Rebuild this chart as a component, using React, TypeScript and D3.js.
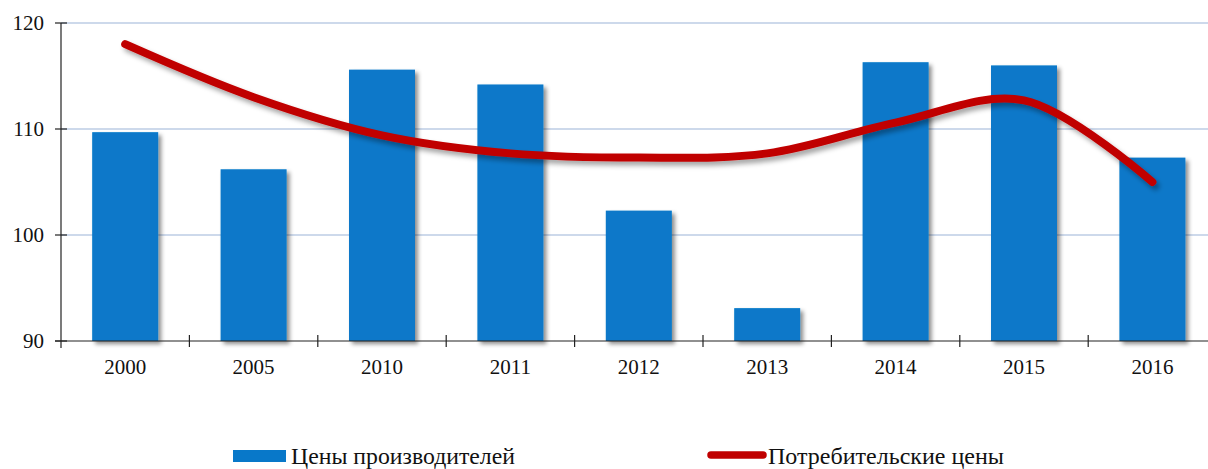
import React from "react";
import * as d3 from "d3";

const categories = ["2000", "2005", "2010", "2011", "2012", "2013", "2014", "2015", "2016"];
const producerPrices = [109.7, 106.2, 115.6, 114.2, 102.3, 93.1, 116.3, 116.0, 107.3];
const consumerPrices = [118.0, 113.0, 109.4, 107.7, 107.3, 107.7, 110.6, 112.7, 105.0];
const yTicks = [90, 100, 110, 120];
const legendLabels = ["Цены производителей", "Потребительские цены"];

const W = 1208;
const H = 469;
const left = 61;
const step = 128.4;
const top = 23;
const bottom = 341;
const font = "'Liberation Serif', 'Times New Roman', serif";

export default function App() {
  const x = d3.scaleBand<string>().domain(categories).range([left, left + step * categories.length]).padding(0);
  const y = d3.scaleLinear().domain([90, 120]).range([bottom, top]);
  const bw = x.bandwidth() * 0.514;
  const cx = (c: string) => (x(c) as number) + x.bandwidth() / 2;

  const line = d3
    .line<number>()
    .x((_, i) => cx(categories[i]))
    .y((d) => y(d))
    .curve(d3.curveCatmullRom.alpha(0.5));

  return (
    <div style={{ position: "absolute", left: 0, top: 0 }}>
      <svg width={W} height={H} style={{ display: "block", background: "#fff" }}>
        <defs>
          <filter id="sh" x="-20%" y="-20%" width="150%" height="150%">
            <feDropShadow dx="3" dy="3" stdDeviation="2" floodColor="#000" floodOpacity="0.45" />
          </filter>
          <filter id="shl" x="-10%" y="-30%" width="120%" height="160%">
            <feDropShadow dx="3" dy="4" stdDeviation="2.5" floodColor="#000" floodOpacity="0.35" />
          </filter>
        </defs>
        {/* gridlines */}
        {yTicks.filter((t) => t !== 90).map((t) => (
          <line key={t} x1={left} x2={W} y1={y(t)} y2={y(t)} stroke="#bccde4" strokeWidth={1.5} />
        ))}
        {/* bars */}
        {categories.map((c, i) => (
          <rect
            key={c}
            x={cx(c) - bw / 2}
            y={y(producerPrices[i])}
            width={bw}
            height={bottom - y(producerPrices[i])}
            fill="#0878c9"
            filter="url(#sh)"
          />
        ))}
        {/* axes */}
        <line x1={left} x2={left} y1={top} y2={bottom + 7} stroke="#222" strokeWidth={1.2} />
        <line x1={left - 6} x2={W} y1={bottom} y2={bottom} stroke="#222" strokeWidth={1.2} />
        {yTicks.map((t) => (
          <g key={t}>
            <line x1={left - 6} x2={left + 6} y1={y(t)} y2={y(t)} stroke="#222" strokeWidth={1.2} />
            <text x={44} y={y(t)} dy="0.35em" textAnchor="end" fontFamily={font} fontSize={21} fill="#111">
              {t}
            </text>
          </g>
        ))}
        {categories.map((c, i) => (
          <g key={c}>
            {i > 0 && (
              <line x1={x(c)} x2={x(c)} y1={bottom - 6} y2={bottom + 6} stroke="#222" strokeWidth={1.2} />
            )}
            <text x={cx(c)} y={374} textAnchor="middle" fontFamily={font} fontSize={21} fill="#111">
              {c}
            </text>
          </g>
        ))}
        {/* line */}
        <path
          d={line(consumerPrices) || ""}
          fill="none"
          stroke="#c00000"
          strokeWidth={8}
          strokeLinecap="round"
          strokeLinejoin="round"
          filter="url(#shl)"
        />
        {/* legend */}
        <rect x={233} y={450} width={53} height={12} fill="#0878c9" />
        <text x={291} y={464} fontFamily={font} fontSize={23.5} fill="#111" textLength={224} lengthAdjust="spacingAndGlyphs">
          {legendLabels[0]}
        </text>
        <line x1={711} x2={763} y1={455} y2={455} stroke="#c00000" strokeWidth={7.5} strokeLinecap="round" />
        <text x={768} y={464} fontFamily={font} fontSize={23.5} fill="#111" textLength={236} lengthAdjust="spacingAndGlyphs">
          {legendLabels[1]}
        </text>
      </svg>
    </div>
  );
}
